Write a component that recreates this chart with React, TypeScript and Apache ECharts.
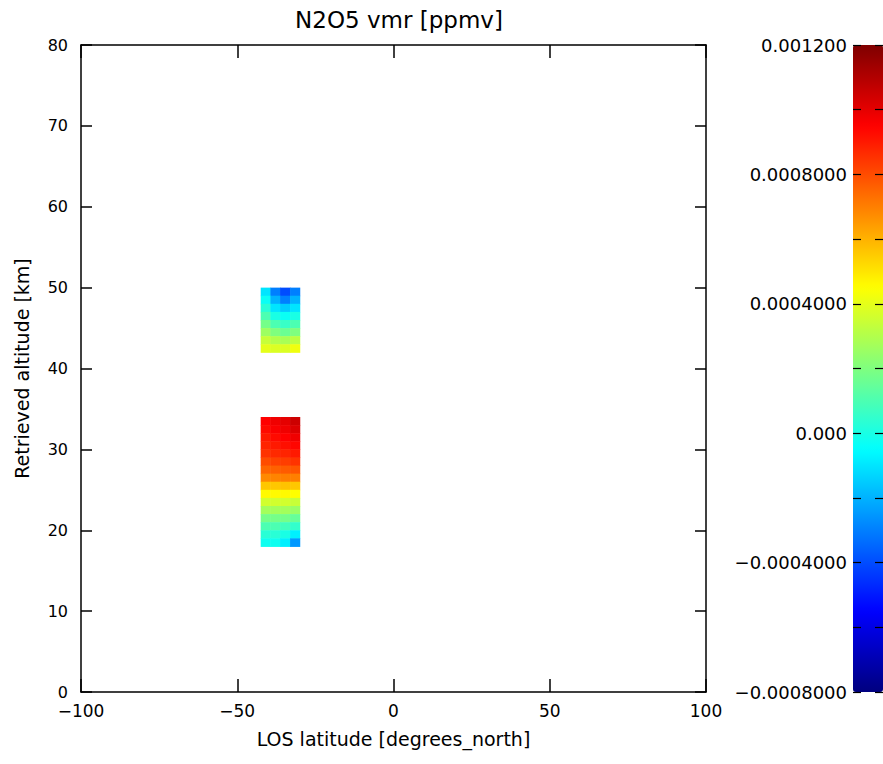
import React, { useEffect, useRef } from "react";
import * as echarts from "echarts";

// Latitude cell edges of the retrieved profiles (degrees north)
const latEdges = [-42.5, -39.4, -36.3, -33.1, -30];

// Upper block: altitude rows (km, bottom edge), values per latitude column (ppmv)
const upperAltitudes = [49, 48, 47, 46, 45, 44, 43, 42];
const upperValues = [
  [-0.0001, -0.0003, -0.0004, -0.0003],
  [-0.00003, -0.0002, -0.0003, -0.0002],
  [0.00003, -0.0001, -0.00015, -0.0001],
  [0.0001, 0.0, -0.00003, 0.0],
  [0.00018, 0.0001, 0.00006, 0.0001],
  [0.00026, 0.0002, 0.00016, 0.0002],
  [0.00034, 0.0003, 0.00028, 0.00032],
  [0.0004, 0.00038, 0.00038, 0.00042],
];

// Lower block
const lowerAltitudes = [33, 32, 31, 30, 29, 28, 27, 26, 25, 24, 23, 22, 21, 20, 19, 18];
const lowerValues = [
  [0.00095, 0.00098, 0.001, 0.00105],
  [0.00093, 0.00096, 0.00098, 0.00102],
  [0.0009, 0.00093, 0.00095, 0.00098],
  [0.00088, 0.0009, 0.00092, 0.00094],
  [0.00085, 0.00087, 0.00088, 0.0009],
  [0.0008, 0.00082, 0.00083, 0.00085],
  [0.00075, 0.00076, 0.00077, 0.00078],
  [0.00068, 0.00069, 0.0007, 0.0007],
  [0.00056, 0.00056, 0.00057, 0.00056],
  [0.00046, 0.00046, 0.00046, 0.00045],
  [0.00036, 0.00036, 0.00036, 0.00034],
  [0.00027, 0.00027, 0.00027, 0.00025],
  [0.00018, 0.00018, 0.00018, 0.00015],
  [0.0001, 0.0001, 0.00008, 0.00005],
  [0.00003, 0.00003, 0.0, -0.00008],
  [-0.00002, -0.00002, -0.00008, -0.00025],
];
const rowHeight = 1;

const xTicks = [-100, -50, 0, 50, 100];
const yTicks = [0, 10, 20, 30, 40, 50, 60, 70, 80];
const cbTickValues = [-0.0008, -0.0004, 0.0, 0.0004, 0.0008, 0.0012];
const cbTickLabels = ["\u22120.0008000", "\u22120.0004000", "0.000", "0.0004000", "0.0008000", "0.001200"];
const cbMin = -0.0008;
const cbMax = 0.0012;

const jet = ["#00007f", "#0000ff", "#007fff", "#00ffff", "#7fff7f", "#ffff00", "#ff7f00", "#ff0000", "#7f0000"];

const FONT = "DejaVu Sans";

function buildCells() {
  const cells: number[][] = [];
  const add = (alts: number[], vals: number[][]) => {
    alts.forEach((a, r) => {
      for (let c = 0; c < latEdges.length - 1; c++) {
        cells.push([latEdges[c], latEdges[c + 1], a, a + rowHeight, vals[r][c]]);
      }
    });
  };
  add(upperAltitudes, upperValues);
  add(lowerAltitudes, lowerValues);
  return cells;
}

export default function App() {
  const ref = useRef<HTMLDivElement>(null);
  useEffect(() => {
    if (!ref.current) return;
    const chart = echarts.init(ref.current, undefined, { renderer: "svg" });
    const axisLine = { show: true, onZero: false, lineStyle: { color: "#000", width: 1.5 } };
    const labelStyle = { color: "#000", fontFamily: FONT, fontSize: 17 };
    const minus = (v: number) => (v < 0 ? "\u2212" + String(-v) : String(v));
    const cbLabel = (v: number) => {
      const i = cbTickValues.findIndex((t) => Math.abs(t - v) < 1e-9);
      return i >= 0 ? cbTickLabels[i] : "";
    };
    const cbTick = { show: true, inside: true, length: 8, lineStyle: { color: "#000", width: 1.2 } };
    chart.setOption({
      animation: false,
      backgroundColor: "#fff",
      title: {
        text: "N2O5 vmr [ppmv]",
        left: 394,
        top: 3,
        textAlign: "center",
        textStyle: { color: "#000", fontFamily: FONT, fontSize: 23, fontWeight: "normal" },
      },
      grid: [
        { left: 81, top: 45, width: 625, height: 647 },
        { left: 853, top: 45, width: 30, height: 647 },
      ],
      xAxis: [
        {
          type: "value",
          gridIndex: 0,
          min: xTicks[0],
          max: xTicks[xTicks.length - 1],
          interval: 50,
          axisLine,
          axisTick: { show: true, inside: true, length: 13, lineStyle: { color: "#000", width: 1.5 } },
          axisLabel: { ...labelStyle, margin: 10, formatter: minus },
          splitLine: { show: false },
          name: "LOS latitude [degrees_north]",
          nameLocation: "middle",
          nameGap: 37,
          nameTextStyle: { color: "#000", fontFamily: FONT, fontSize: 19 },
        },
        {
          type: "value",
          gridIndex: 0,
          position: "top",
          min: xTicks[0],
          max: xTicks[xTicks.length - 1],
          interval: 50,
          axisLine,
          axisTick: { show: true, inside: true, length: 13, lineStyle: { color: "#000", width: 1.5 } },
          axisLabel: { show: false },
          splitLine: { show: false },
        },
        {
          type: "value",
          gridIndex: 1,
          min: 0,
          max: 1,
          show: false,
        },
      ],
      yAxis: [
        {
          type: "value",
          gridIndex: 0,
          min: yTicks[0],
          max: yTicks[yTicks.length - 1],
          interval: 10,
          axisLine,
          axisTick: { show: true, inside: true, length: 11, lineStyle: { color: "#000", width: 1.5 } },
          axisLabel: { ...labelStyle, fontSize: 16, margin: 13 },
          splitLine: { show: false },
          name: "Retrieved altitude [km]",
          nameLocation: "middle",
          nameGap: 50,
          nameRotate: 90,
          nameTextStyle: { color: "#000", fontFamily: FONT, fontSize: 19 },
        },
        {
          type: "value",
          gridIndex: 0,
          position: "right",
          min: yTicks[0],
          max: yTicks[yTicks.length - 1],
          interval: 10,
          axisLine,
          axisTick: { show: true, inside: true, length: 11, lineStyle: { color: "#000", width: 1.5 } },
          axisLabel: { show: false },
          splitLine: { show: false },
        },
        {
          type: "value",
          gridIndex: 1,
          min: cbMin,
          max: cbMax,
          interval: 0.0002,
          z: 10,
          axisLine: { show: false },
          axisTick: cbTick,
          axisLabel: { ...labelStyle, fontSize: 18, margin: 6, formatter: cbLabel },
          splitLine: { show: false },
        },
        {
          type: "value",
          gridIndex: 1,
          position: "right",
          min: cbMin,
          max: cbMax,
          interval: 0.0002,
          z: 10,
          axisLine: { show: false },
          axisTick: cbTick,
          axisLabel: { show: false },
          splitLine: { show: false },
        },
      ],
      visualMap: {
        type: "continuous",
        min: cbMin,
        max: cbMax,
        dimension: 4,
        seriesIndex: 0,
        calculable: false,
        hoverLink: false,
        left: 853,
        top: 45,
        padding: 0,
        itemWidth: 30,
        itemHeight: 647,
        text: ["", ""],
        inRange: { color: jet },
      },
      series: [
        {
          type: "custom",
          xAxisIndex: 0,
          yAxisIndex: 0,
          encode: { x: [0, 1], y: [2, 3] },
          data: buildCells(),
          renderItem: (params: any, api: any) => {
            const p0 = api.coord([api.value(0), api.value(3)]);
            const p1 = api.coord([api.value(1), api.value(2)]);
            return {
              type: "rect",
              shape: { x: p0[0], y: p0[1], width: p1[0] - p0[0] + 0.5, height: p1[1] - p0[1] + 0.5 },
              style: { fill: api.visual("color") },
            };
          },
        },
      ],
    });
    return () => chart.dispose();
  }, []);
  return <div ref={ref} style={{ position: "absolute", left: 0, top: 0, width: 883, height: 764 }} />;
}
